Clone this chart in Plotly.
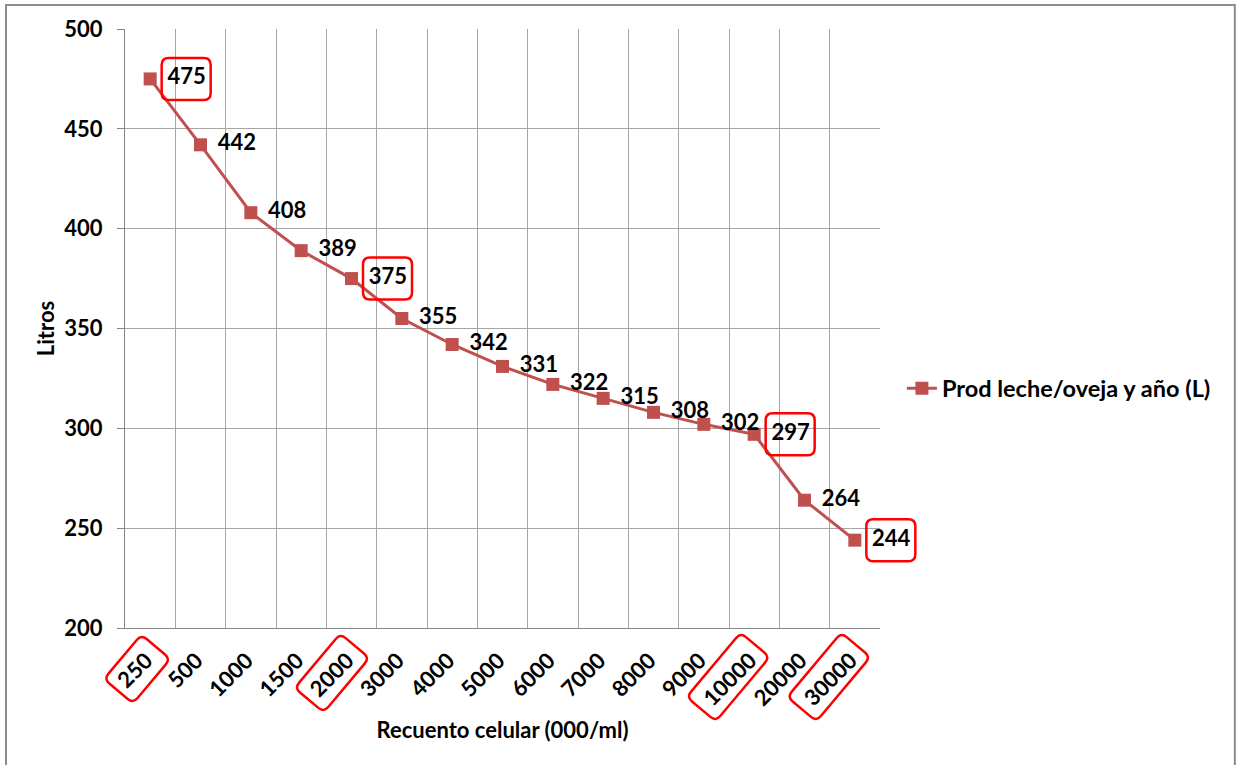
import math
import plotly.graph_objects as go

categories = ["250", "500", "1000", "1500", "2000", "3000", "4000", "5000",
              "6000", "7000", "8000", "9000", "10000", "20000", "30000"]
litros = [475, 442, 408, 389, 375, 355, 342, 331, 322, 315, 308, 302, 297, 264, 244]
series_name = "Prod leche/oveja y año (L)"
highlight_points = [0, 4, 12, 14]
highlight_ticks = [0, 4, 12, 14]

FONT = "Lato"
RED_LINE = "#C0504D"
BOX_RED = "#FF0000"
GRID = "#A6A6A6"
AXIS = "#868686"
PAD = "\u00a0\u2009"


def rrect(cx, cy, L, W, ang, r):
    """Rounded rectangle path in pixel coords (screen: y down), converted to plotly (y up)."""
    a = math.radians(ang)
    u = (math.cos(a), -math.sin(a))
    v = (math.sin(a), math.cos(a))
    corners = []
    for su, sv in [(1, -1), (1, 1), (-1, 1), (-1, -1)]:
        corners.append((cx + su * u[0] * L / 2 + sv * v[0] * W / 2,
                        cy + su * u[1] * L / 2 + sv * v[1] * W / 2))
    n = len(corners)

    def towards(a_, b_, d):
        dx, dy = b_[0] - a_[0], b_[1] - a_[1]
        ln = math.hypot(dx, dy)
        return (a_[0] + dx / ln * d, a_[1] + dy / ln * d)

    pts = []
    for i in range(n):
        p = corners[i]
        pts.append((towards(p, corners[i - 1], r), p, towards(p, corners[(i + 1) % n], r)))

    def f(pt):
        return f"{pt[0]:.2f},{-pt[1]:.2f}"
    d = f"M{f(pts[0][2])}"
    for i in range(1, n + 1):
        a_, c, b_ = pts[i % n]
        d += f" L{f(a_)} Q{f(c)} {f(b_)}"
    return d + " Z"


fig = go.Figure()
fig.add_trace(go.Scatter(
    x=categories, y=litros, name=series_name,
    mode="lines+markers+text",
    text=[PAD + str(v) for v in litros],
    textposition="middle right",
    textfont=dict(family=FONT, size=22, color="black", weight="bold"),
    line=dict(color=RED_LINE, width=3),
    marker=dict(symbol="square", size=13, color=RED_LINE),
    cliponaxis=False,
))

ncat = len(categories)
shapes = []
# boxes around highlighted data labels
for i in highlight_points:
    shapes.append(dict(
        type="path", xref="paper", yref="y", xsizemode="pixel", ysizemode="pixel",
        xanchor=(i + 0.5) / ncat, yanchor=litros[i],
        path=rrect(36, 0, 49, 42, 0, 7),
        line=dict(color=BOX_RED, width=2.5), fillcolor="rgba(0,0,0,0)", layer="above"))
# boxes around highlighted tick labels
for i in highlight_ticks:
    nd = len(categories[i])
    L = 58 + 13 * (nd - 3)
    cx = -13 - 6.5 * (nd - 3)
    cy = 41 + 4 * (nd - 3)
    shapes.append(dict(
        type="path", xref="paper", yref="paper", xsizemode="pixel", ysizemode="pixel",
        xanchor=(i + 0.5) / ncat, yanchor=0,
        path=rrect(cx, cy, L, 38, 50, 7),
        line=dict(color=BOX_RED, width=2.5), fillcolor="rgba(0,0,0,0)", layer="above"))
# outer border of the chart
shapes.append(dict(type="rect", xref="paper", yref="paper",
                   x0=-0.1576, x1=1.470, y0=-0.25, y1=1.040,
                   line=dict(color="#8C8C8C", width=2), fillcolor="rgba(0,0,0,0)"))

fig.update_layout(
    width=1237, height=765,
    margin=dict(l=125, r=357, t=29, b=137),
    paper_bgcolor="white", plot_bgcolor="white",
    font=dict(family=FONT, size=22, color="black"),
    showlegend=True,
    legend=dict(x=1.029, y=0.40, xanchor="left", yanchor="middle",
                font=dict(family=FONT, size=23.5, color="black", weight="bold"),
                bgcolor="rgba(0,0,0,0)"),
    shapes=shapes,
)
fig.update_xaxes(
    type="category", range=[-0.5, 14.5], tickson="boundaries",
    showgrid=True, gridcolor=GRID, gridwidth=1,
    showline=True, linecolor=AXIS, linewidth=1,
    ticks="", ticklabelstandoff=10, ticklabelshift=-4,
    tickangle=-45, tickfont=dict(family=FONT, size=22, weight="bold"),
    title=dict(text="Recuento celular (000/ml)", standoff=12,
               font=dict(family=FONT, size=22, weight="bold")),
)
fig.update_yaxes(
    range=[200, 500], dtick=50,
    showgrid=True, gridcolor=GRID, gridwidth=1,
    showline=True, linecolor=AXIS, linewidth=1,
    ticks="outside", ticklen=7, tickcolor=AXIS, ticklabelstandoff=10,
    tickfont=dict(family=FONT, size=22, weight="bold"),
    title=dict(text="Litros", standoff=3,
               font=dict(family=FONT, size=22, weight="bold")),
    zeroline=False,
)
fig.write_html("out.html", config={"displayModeBar": False},
               post_script="document.body.style.margin='0';")
